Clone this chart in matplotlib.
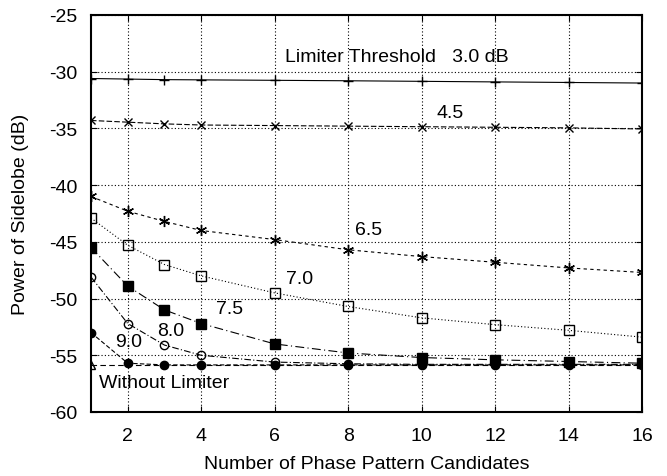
import matplotlib.pyplot as plt

plt.rcParams['font.family'] = ['Liberation Sans', 'DejaVu Sans']
plt.rcParams['axes.unicode_minus'] = False

# Number of phase pattern candidates
x = [1, 2, 3, 4, 6, 8, 10, 12, 14, 16]

# Power of sidelobe (dB) for each limiter threshold
thr_30 = [-30.6, -30.65, -30.7, -30.72, -30.76, -30.8, -30.85, -30.9, -30.95, -31.0]
thr_45 = [-34.3, -34.45, -34.6, -34.7, -34.75, -34.8, -34.85, -34.9, -34.95, -35.05]
thr_65 = [-41.0, -42.3, -43.2, -44.0, -44.8, -45.7, -46.3, -46.8, -47.3, -47.7]
thr_70 = [-42.9, -45.3, -47.0, -48.0, -49.5, -50.7, -51.7, -52.3, -52.8, -53.4]
thr_75 = [-45.5, -48.9, -51.0, -52.2, -54.0, -54.8, -55.2, -55.4, -55.55, -55.7]
thr_80 = [-48.1, -52.2, -54.1, -55.0, -55.6, -55.75, -55.8, -55.8, -55.8, -55.8]
thr_90 = [-53.0, -55.7, -55.85, -55.85, -55.85, -55.85, -55.85, -55.85, -55.85, -55.85]
no_lim = [-55.85, -55.85, -55.85, -55.85, -55.85, -55.85, -55.85, -55.85, -55.85, -55.85]

fig = plt.figure(figsize=(6.67, 4.77), dpi=100)
ax = fig.add_axes([0.1364, 0.1342, 0.8261, 0.8323])

k = 'black'
ax.plot(x, no_lim, color=k, lw=0.8, ls=(0, (5, 3)), marker='^', mfc='none', ms=6, markevery=[0])
ax.plot(x, thr_30, color=k, lw=0.8, ls='-', marker='+', ms=7)
ax.plot(x, thr_45, color=k, lw=0.8, ls=(0, (5, 2)), marker='x', ms=6)
ax.plot(x, thr_65, color=k, lw=0.8, ls=(0, (3, 3)), marker=(6, 2, 0), ms=8)
ax.plot(x, thr_70, color=k, lw=0.8, ls=(0, (1, 2)), marker='s', mfc='none', ms=7)
ax.plot(x, thr_75, color=k, lw=0.8, ls=(0, (8, 3, 1, 3)), marker='s', mfc=k, ms=7)
ax.plot(x, thr_80, color=k, lw=0.8, ls=(0, (6, 2, 1, 2)), marker='o', mfc='none', ms=6)
ax.plot(x, thr_90, color=k, lw=0.8, ls=(0, (4, 2)), marker='o', mfc=k, ms=6)

fs = 14
ax.text(6.28, -28.7, 'Limiter Threshold   3.0 dB', fontsize=fs, va='center')
ax.text(10.4, -33.6, '4.5', fontsize=fs, va='center')
ax.text(8.19, -43.9, '6.5', fontsize=fs, va='center')
ax.text(6.3, -48.2, '7.0', fontsize=fs, va='center')
ax.text(4.39, -50.9, '7.5', fontsize=fs, va='center')
ax.text(2.79, -52.8, '8.0', fontsize=fs, va='center')
ax.text(1.67, -53.8, '9.0', fontsize=fs, va='center')
ax.text(1.22, -57.4, 'Without Limiter', fontsize=fs, va='center')

ax.set_xlim(1, 16)
ax.set_ylim(-60, -25)
ax.set_xticks([2, 4, 6, 8, 10, 12, 14, 16])
ax.set_yticks(range(-60, -24, 5))
ax.grid(True, color=k, ls=(0, (1, 2)), lw=0.8)
ax.tick_params(direction='in', top=True, right=True, labelsize=fs, length=4)
ax.tick_params(axis='x', pad=11)
ax.tick_params(axis='y', pad=10)
for s in ax.spines.values():
    s.set_linewidth(1.5)

ax.set_xlabel('Number of Phase Pattern Candidates', fontsize=fs, labelpad=8)
ax.set_ylabel('Power of Sidelobe (dB)', fontsize=fs, labelpad=14)

fig.savefig('out.png', dpi=100)
